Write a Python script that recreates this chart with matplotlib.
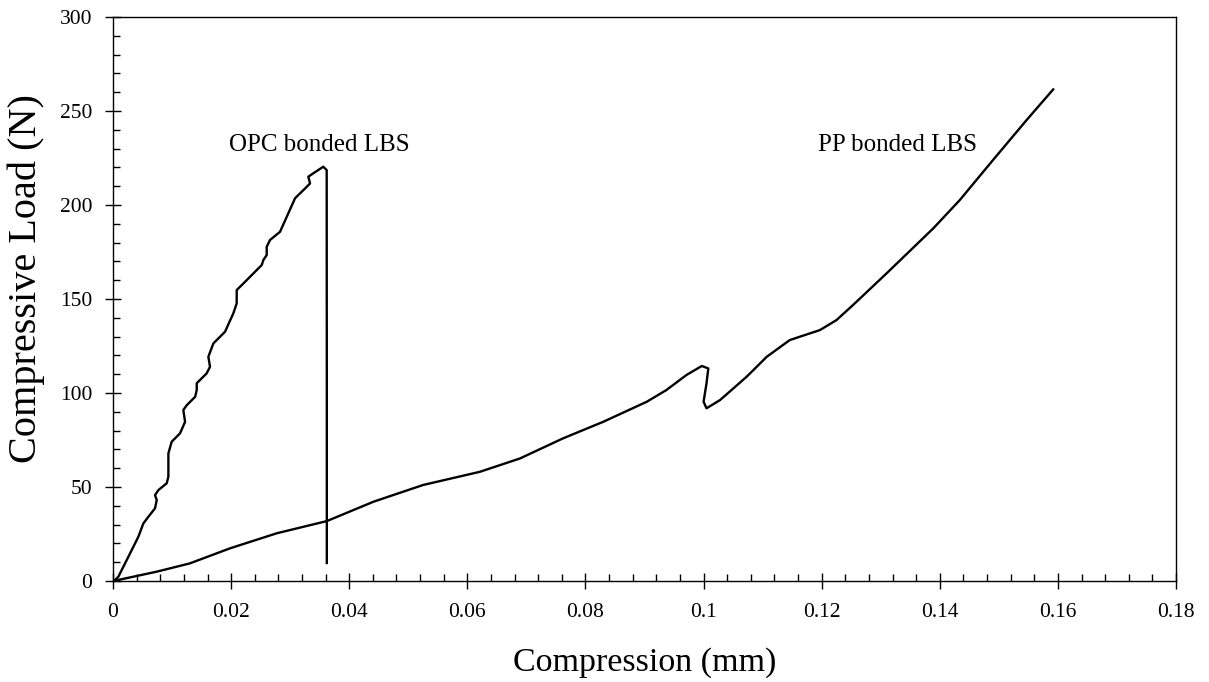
import matplotlib
matplotlib.use("Agg")
import matplotlib.pyplot as plt
from matplotlib.ticker import MultipleLocator

plt.rcParams['font.family'] = ['Liberation Serif', 'DejaVu Serif']

# OPC bonded LBS
opc_x = [0.0000, 0.0003, 0.0009, 0.00147, 0.00288, 0.00429, 0.00514, 0.00598, 0.00711,
         0.0074, 0.00711, 0.00768, 0.00909, 0.00937, 0.00937, 0.00993, 0.01135, 0.0122,
         0.0119, 0.0125, 0.0139, 0.01417, 0.01417, 0.01586, 0.01642, 0.01614, 0.01699,
         0.01896, 0.02037, 0.02094, 0.02094, 0.02179, 0.02518, 0.02545, 0.02602, 0.02602,
         0.02658, 0.02828, 0.03082, 0.0328, 0.03336, 0.03307, 0.03392, 0.0356, 0.03618,
         0.0362, 0.0362]
opc_y = [0.0, 0.5, 2.3, 5.9, 14.7, 23.6, 30.7, 34.2, 38.7,
         43.1, 45.7, 48.4, 52.0, 55.5, 67.9, 74.1, 78.6, 84.7,
         91.0, 93.6, 98.0, 101.6, 105.2, 110.5, 114.0, 119.3, 126.4,
         132.6, 142.4, 147.7, 154.8, 157.4, 168.1, 170.7, 173.4, 177.8,
         181.4, 185.8, 203.6, 209.7, 211.5, 215.1, 216.9, 220.4, 218.6,
         100.0, 9.6]

# PP bonded LBS
pp_x = [0.0000, 0.0074, 0.0130, 0.0198, 0.0277, 0.0362, 0.0441, 0.0525, 0.0621,
        0.0689, 0.0762, 0.0830, 0.0904, 0.0937, 0.0971, 0.0997, 0.1008, 0.1005,
        0.1000, 0.1005, 0.1028, 0.1073, 0.1107, 0.1146, 0.1197, 0.1225, 0.1253,
        0.1310, 0.1389, 0.1434, 0.1490, 0.1547, 0.1592]
pp_y = [0.0, 5.0, 9.4, 17.4, 25.4, 31.9, 42.2, 51.1, 58.1,
        65.2, 75.9, 84.7, 95.4, 101.6, 109.6, 114.4, 113.1, 105.2,
        95.4, 91.9, 96.3, 108.7, 119.3, 128.2, 133.5, 138.8, 146.8,
        163.7, 187.6, 202.7, 223.9, 245.2, 261.5]

labels = ["OPC bonded LBS", "PP bonded LBS"]
label_pos = [(0.0350, 232), (0.1328, 232)]

xtick_vals = [0, 0.02, 0.04, 0.06, 0.08, 0.1, 0.12, 0.14, 0.16, 0.18]
xtick_labels = ["0", "0.02", "0.04", "0.06", "0.08", "0.1", "0.12", "0.14", "0.16", "0.18"]

fig = plt.figure(figsize=(12.09, 6.82), dpi=100)
ax = fig.add_axes([0.0935, 0.148, 0.8792, 0.827])

ax.plot(opc_x, opc_y, color='black', lw=1.7, solid_joinstyle='round')
ax.plot(pp_x, pp_y, color='black', lw=1.7, solid_joinstyle='round')

for t, (lx, ly) in zip(labels, label_pos):
    ax.text(lx, ly, t, ha='center', va='center', fontsize=18)

ax.set_xlim(0, 0.18)
ax.set_ylim(0, 300)
ax.set_xticks(xtick_vals)
ax.set_xticklabels(xtick_labels)
ax.xaxis.set_minor_locator(MultipleLocator(0.004))
ax.yaxis.set_major_locator(MultipleLocator(50))
ax.yaxis.set_minor_locator(MultipleLocator(10))
ax.tick_params(which='major', direction='inout', length=12, width=1, labelsize=15.5)
ax.tick_params(axis='x', which='major', pad=10)
ax.tick_params(axis='y', which='major', pad=9)
ax.tick_params(which='minor', direction='in', length=5, width=1)
for s in ax.spines.values():
    s.set_linewidth(1.0)

ax.set_xlabel("Compression (mm)", fontsize=24.5, labelpad=18)
fig.text(26 / 1209, 1 - 279 / 682, "Compressive Load (N)", rotation=90,
         ha='center', va='center', fontsize=29)

fig.savefig("out.png", dpi=100)
